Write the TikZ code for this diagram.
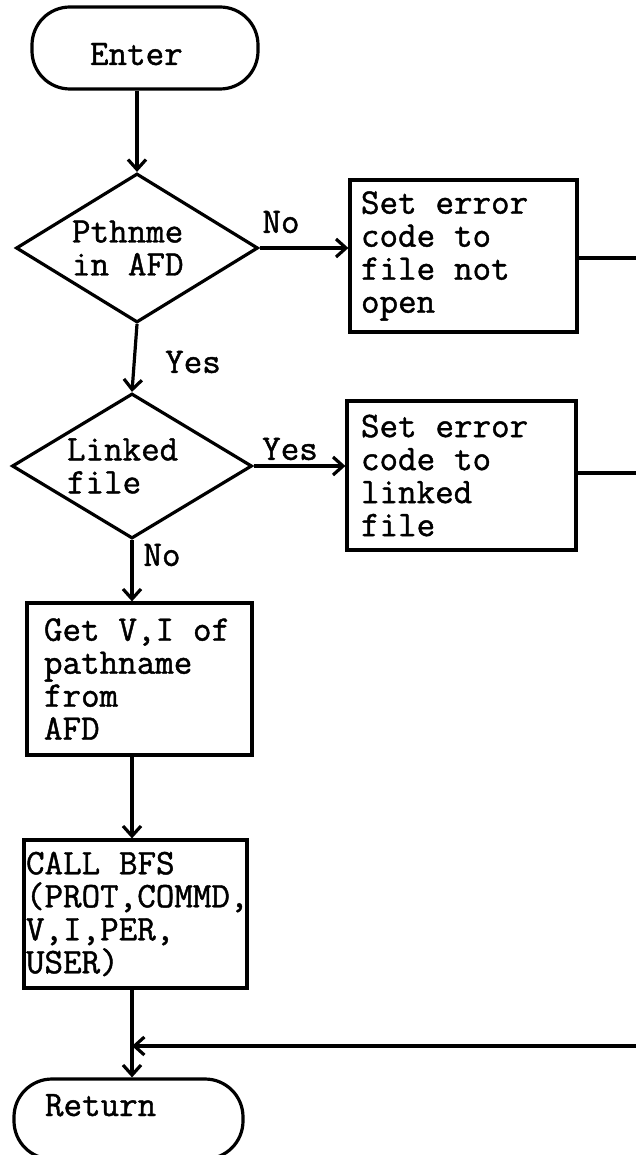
\documentclass[tikz,border=0pt]{standalone}
\usepackage{fontspec}
\setmonofont{Latin Modern Mono}[WordSpace={1,0,0}, FakeBold=1.2]
\usetikzlibrary{shapes.geometric,arrows.meta}
\DeclareRobustCommand{\flowfont}{\ttfamily\fontsize{18}{16.5}\selectfont\spaceskip=0.525em\relax}
\begin{document}
\begin{tikzpicture}[x=0.5pt, y=-0.5pt, line width=1.6pt,
  >={Straight Barb[length=5pt,width=9pt]},
  every node/.style = {font=\flowfont},
  terminal/.style = {draw, rectangle, rounded corners=19pt,
    inner sep=0pt, align=flush left},
  decision/.style = {draw, diamond, aspect=1.65, inner sep=0pt,
    text width=65pt, align=flush left},
  procbox/.style = {draw, rectangle, inner sep=0pt, align=flush left},
  lbl/.style = {inner sep=0pt}]
  \useasboundingbox (0,0) rectangle (636,1155);
  \node[terminal, minimum width=113pt, minimum height=41pt,
    text width=55pt, text height=17pt, text depth=0pt] (enter) at (145,48) {Enter};
  \node[decision, minimum width=121pt, minimum height=74.5pt] (pthnme) at (137,248) {Pthnme\\in AFD};
  \node[procbox, minimum width=113.5pt, minimum height=76pt, text width=102.5pt] (notopen) at (463.5,256)
    {Set error\\code to\\file not\\open};
  \node[decision, minimum width=120pt, minimum height=72.5pt] (linked) at (132,466) {Linked\\file};
  \node[procbox, minimum width=114.5pt, minimum height=74.5pt, text width=100.5pt] (linkerr) at (461.5,475.5)
    {Set error\\code to\\linked\\file};
  \node[procbox, minimum width=112.5pt, minimum height=76pt, text width=95.5pt] (getvi) at (139.5,679)
    {Get V,I of\\pathname\\from\\AFD};
  \node[procbox, minimum width=111.5pt, minimum height=74pt, text width=109.5pt] (callbfs) at (135.5,914)
    {CALL BFS\\(PROT,COMMD,\\V,I,PER,\\USER)};
  \node[terminal, minimum width=114.5pt, minimum height=40pt,
    text width=83.5pt, text height=12pt, text depth=15pt] (return) at (128.5,1119) {Return};
  % branch labels
  \node[lbl] (no1) at (281,222) {No};
  \node[lbl] (yes1) at (193,362) {Yes};
  \node[lbl] (yes2) at (290,449) {Yes};
  \node[lbl] (no2) at (162,555) {No};
  % free ends on the right
  \coordinate (edge1) at (640,258);
  \coordinate (edge2) at (640,473);
  \coordinate (edge3) at (640,1046);
  \draw[->] (pthnme.north |- enter.south) -- (pthnme.north);
  \draw[->] (pthnme.east) -- (pthnme.east -| notopen.west);
  \draw (notopen.east |- edge1) -- (edge1);
  \draw[->] (pthnme.south) -- (linked.north);
  \draw[->] (linked.east) -- (linked.east -| linkerr.west);
  \draw (linkerr.east |- edge2) -- (edge2);
  \draw[->] (linked.south) -- (linked.south |- getvi.north);
  \draw[->] (getvi.south -| linked.south) -- (callbfs.north -| linked.south);
  \draw[->] (callbfs.south -| linked.south) -- (return.north -| linked.south);
  \draw[->] (edge3) -- (edge3 -| linked.south);
\end{tikzpicture}
\end{document}
